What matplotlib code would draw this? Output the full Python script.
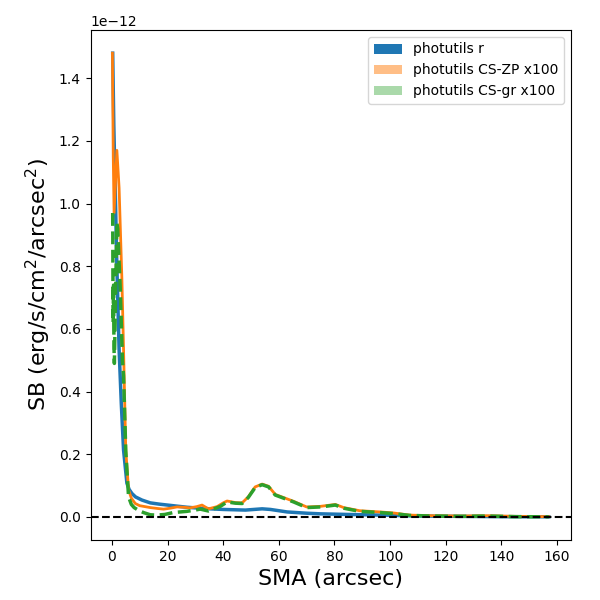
import numpy as np
import matplotlib
matplotlib.use("Agg")
import matplotlib.pyplot as plt
from matplotlib.patches import Patch

# surface brightness profiles, in units of 1e-12 erg/s/cm^2/arcsec^2
blue_x = [0.3, 0.7, 1.2, 1.8, 2.6, 3.4, 4.2, 5.4, 6.2, 7.2, 8.5, 10.8, 13.8, 17, 21,
          27, 33, 40, 48, 51, 54, 57, 63, 70, 75, 85, 99, 110, 125, 140, 157]
blue_y = [1.48, 1.25, 1.05, 0.80, 0.535, 0.36, 0.214, 0.108, 0.088, 0.075, 0.064,
          0.054, 0.045, 0.041, 0.037, 0.031, 0.027, 0.024, 0.022, 0.024, 0.026,
          0.024, 0.016, 0.012, 0.010, 0.008, 0.0055, 0.003, 0.002, 0.001, 0.0005]

orange_x = [0.2, 0.5, 0.8, 1.8, 2.6, 3.6, 4.2, 5.0, 6.0, 7.0, 8.4, 10, 13.8, 16.5,
            18.6, 21, 23.4, 26, 28, 30.5, 32.4, 34.7, 37.8, 40, 41.4, 44.4, 46.8, 49,
            51.5, 54, 56.3, 58.7, 61.7, 65.3, 70, 75, 80.3, 83.3, 89, 96.5, 101, 107,
            115, 125, 135, 145, 157]
orange_y = [1.48, 1.15, 0.97, 1.17, 1.05, 0.76, 0.535, 0.214, 0.086, 0.060, 0.043,
            0.036, 0.030, 0.027, 0.025, 0.028, 0.032, 0.031, 0.029, 0.033, 0.038,
            0.026, 0.033, 0.045, 0.051, 0.046, 0.045, 0.064, 0.096, 0.105, 0.098,
            0.072, 0.062, 0.050, 0.032, 0.034, 0.040, 0.030, 0.020, 0.016, 0.013,
            0.006, 0.004, 0.003, 0.004, 0.002, 0.001]

green_x = [0.3, 0.45, 0.6, 0.75, 0.9, 1.8, 2.1, 3.0, 3.8, 4.2, 5.0, 6.0, 7.0, 8.0,
           9.6, 11.4, 13.8, 16, 19, 22, 27, 31.8, 34.7, 39, 41.4, 44.4, 46.8, 49,
           51.5, 54, 56.3, 58.7, 61.7, 65.3, 70, 75, 80.3, 83.3, 89, 96.5, 101, 107,
           115, 125, 135, 145, 157]
green_y = [0.97, 0.62, 0.74, 0.55, 0.49, 0.94, 0.92, 0.73, 0.50, 0.45, 0.21, 0.064,
           0.040, 0.030, 0.021, 0.014, 0.007, 0.006, 0.008, 0.014, 0.018, 0.025,
           0.019, 0.034, 0.048, 0.044, 0.043, 0.062, 0.094, 0.103, 0.096, 0.070,
           0.060, 0.048, 0.030, 0.032, 0.038, 0.028, 0.018, 0.014, 0.011, 0.005,
           0.003, 0.002, 0.003, 0.001, 0.0005]

labels = ["photutils r", "photutils CS-ZP x100", "photutils CS-gr x100"]

scale = 1e-12

fig = plt.figure(figsize=(6, 6), dpi=100)
ax = fig.add_axes([0.151, 0.1, 0.8, 0.85])

ax.plot(blue_x, np.array(blue_y) * scale, color="C0", lw=2.5)
ax.plot(orange_x, np.array(orange_y) * scale, color="C1", lw=2)
ax.plot(green_x, np.array(green_y) * scale, color="C2", lw=2.5, ls="--")
ax.axhline(0, color="k", ls="--", lw=1.5)

handles = [Patch(facecolor="C0", alpha=1.0),
           Patch(facecolor="C1", alpha=0.5),
           Patch(facecolor="C2", alpha=0.4)]
ax.legend(handles, labels, loc="upper right")

ax.set_xlabel("SMA (arcsec)", fontsize=16)
ax.set_ylabel("SB (erg/s/cm$^2$/arcsec$^2$)", fontsize=16)

fig.savefig("out.png", dpi=100)
